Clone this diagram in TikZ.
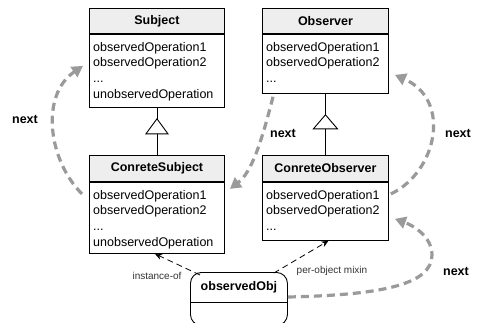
\documentclass[tikz,border=0pt]{standalone}
\usepackage{fontspec}
\setmainfont{Liberation Sans}
\usetikzlibrary{arrows.meta,calc}

\definecolor{hdrfill}{HTML}{EEEEEE}
\definecolor{flowgray}{HTML}{9A9A9A}
\definecolor{labelgray}{HTML}{333333}

\tikzset{
  classhead/.style={draw=black, line width=0.9pt, fill=hdrfill, inner sep=0pt,
    font=\fontsize{12.5}{15}\selectfont\bfseries},
  classbody/.style={draw=black, line width=0.9pt, fill=white, inner sep=0pt},
  ops/.style={anchor=north west, inner sep=0pt, align=left,
    font=\fontsize{12.5}{15.7}\selectfont},
  tree/.style={draw=black, line width=0.9pt},
  inherit/.style={draw=black, line width=0.9pt, fill=white},
  nextflow/.style={draw=flowgray, line width=3.2pt, dash pattern=on 8pt off 5pt,
    -{Triangle[length=11pt,width=12pt,fill=flowgray]}},
  relation/.style={draw=black, line width=0.8pt, dash pattern=on 6pt off 4pt,
    -{Stealth[length=7pt,width=6pt]}},
  nextlabel/.style={inner sep=0pt, font=\fontsize{12.5}{15}\selectfont\bfseries},
  rellabel/.style={inner sep=0pt, text=labelgray, font=\fontsize{10}{12}\selectfont},
}

\begin{document}
\begin{tikzpicture}[x=1pt,y=-1pt]
  \useasboundingbox (0,0) rectangle (479,322);
  \clip (0,0) rectangle (479,322);

  % Subject
  \node[classhead, minimum width=135pt, minimum height=25pt, anchor=north west] (subjH) at (89,8) {Subject};
  \node[classbody, minimum width=135pt, minimum height=73pt, anchor=north west] (subjB) at (subjH.south west) {};
  \node[ops] (subjOps) at ([xshift=4pt,yshift=-8pt]subjB.north west)
    {observedOperation1\\observedOperation2\\...\\unobservedOperation};

  % Observer
  \node[classhead, minimum width=126pt, minimum height=25pt, anchor=north west] (obsH) at (262,8) {Observer};
  \node[classbody, minimum width=126pt, minimum height=59pt, anchor=north west] (obsB) at (obsH.south west) {};
  \node[ops] (obsOps) at ([xshift=4pt,yshift=-8pt]obsB.north west)
    {observedOperation1\\observedOperation2\\...};

  % ConreteSubject
  \node[classhead, minimum width=135pt, minimum height=26pt, anchor=north west] (csH) at (89,155) {ConreteSubject};
  \node[classbody, minimum width=135pt, minimum height=71pt, anchor=north west] (csB) at (csH.south west) {};
  \node[ops] (csOps) at ([xshift=4pt,yshift=-8pt]csB.north west)
    {observedOperation1\\observedOperation2\\...\\unobservedOperation};

  % ConreteObserver
  \node[classhead, minimum width=126pt, minimum height=26pt, anchor=north west] (coH) at (262,155) {ConreteObserver};
  \node[classbody, minimum width=126pt, minimum height=58pt, anchor=north west] (coB) at (coH.south west) {};
  \node[ops] (coOps) at ([xshift=4pt,yshift=-8pt]coB.north west)
    {observedOperation1\\observedOperation2\\...};

  % observed object (rounded box, its lower edge just past the border)
  \node[draw=black, line width=0.9pt, rounded corners=11pt, minimum width=97pt,
        minimum height=53pt, anchor=north west, inner sep=0pt] (obj) at (190,272) {};
  \node[nextlabel, anchor=center] (objName) at ([yshift=-15pt]obj.north) {observedObj};
  \draw[tree] ([yshift=-30pt]obj.north west) -- ([yshift=-30pt]obj.north east);

  % generalisation: Subject <- ConreteSubject
  \coordinate (subjTip) at ($(subjB.south)+(0,11)$);
  \coordinate (subjBase) at ($(subjTip)+(0,15)$);
  \draw[tree] (subjB.south) -- (subjTip);
  \draw[tree] (subjBase) -- (csH.north);
  \draw[inherit] (subjTip) -- ++(11,15) -- ++(-22,0) -- cycle;

  % generalisation: Observer <- ConreteObserver
  \coordinate (obsTip) at ($(obsB.south)+(0,21)$);
  \coordinate (obsBase) at ($(obsTip)+(0,14)$);
  \draw[tree] (obsB.south) -- (obsTip);
  \draw[tree] (obsBase) -- (coH.north);
  \draw[inherit] (obsTip) -- ++(12,14) -- ++(-24,0) -- cycle;

  % "next" chains
  \draw[nextflow] ([xshift=-7pt,yshift=-12pt]csB.north west)
    .. controls (48,160) and (40,95) .. ([xshift=-6pt,yshift=-32pt]subjB.north west);
  \node[nextlabel] (nextA) at (25,119) {next};

  \draw[nextflow] ([xshift=11pt,yshift=-3pt]obsB.south west)
    .. controls (262,140) and (252,172) .. ([xshift=5pt,yshift=-7pt]csB.north east);
  \node[nextlabel] (nextB) at (283,133) {next};

  \draw[nextflow] ([xshift=2pt,yshift=-12pt]coB.north east)
    .. controls (437,172) and (452,100) .. ([xshift=6pt,yshift=-41pt]obsB.north east);
  \node[nextlabel] (nextC) at (458,133) {next};

  \draw[nextflow] ([yshift=-25pt]obj.north east)
    .. controls (380,295) and (432,285) .. (432,255)
    .. controls (432,236) and (412,225) .. ([xshift=6pt,yshift=-37pt]coB.north east);
  \node[nextlabel] (nextD) at (456,271) {next};

  % instance / mixin relations
  \draw[relation] ([xshift=10pt,yshift=-3pt]obj.north west) -- ([xshift=-2pt]csB.south);
  \node[rellabel] (instOf) at (157,276) {instance-of};
  \draw[relation] ([xshift=-14pt,yshift=-1pt]obj.north east) -- ([xshift=3pt]coB.south);
  \node[rellabel] (mixin) at (332,271) {per-object mixin};
\end{tikzpicture}
\end{document}
